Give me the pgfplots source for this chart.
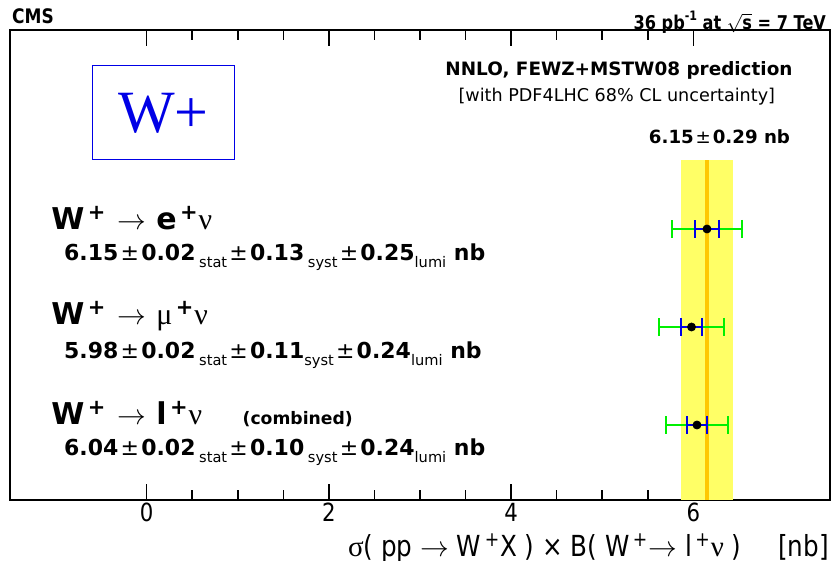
\documentclass[border=0pt]{standalone}
\usepackage{fontspec}
\setmainfont{DejaVu Sans}
\newfontfamily\cond[FakeStretch=0.85]{DejaVu Sans}
\newfontfamily\serif{Liberation Serif}
\usepackage{pgfplots}
\pgfplotsset{compat=1.18}
\definecolor{bandyellow}{RGB}{255,255,102}
\definecolor{cent}{RGB}{255,200,0}
\definecolor{grn}{RGB}{0,240,0}
\definecolor{blu}{RGB}{0,0,230}
\newcommand\sub[1]{\raisebox{-0.6ex}{\fontsize{7.3}{7.3}\selectfont\mdseries #1}}
\newcommand\gr[1]{{\serif\mdseries #1}}
\newcommand\pmm{{\mdseries\kern0.1em±\kern0.1em}}
\newcommand\arr{{\mdseries$\rightarrow$}}
\begin{document}
\begin{tikzpicture}
\path[use as bounding box] (-5pt,-30.5pt) rectangle (411pt,250pt);
\begin{axis}[at={(0,0)}, anchor=south west, width=410pt, height=235pt, scale only axis,
  xmin=-1.5, xmax=7.5, ymin=0, ymax=470, clip=false,
  axis line style={line width=1pt},
  xtick={0,2,4,6}, minor x tick num=3,
  ytick=\empty,
  major tick length=8pt, minor tick length=5pt,
  tick style={black, line width=0.8pt},
  minor tick style={black, line width=0.8pt},
  tick align=inside, xtick pos=both,
  xticklabel style={font=\cond\fontsize{12.5}{12.5}\selectfont, yshift=2pt},
  /pgf/number format/assume math mode=true]
% band
\addplot[fill=bandyellow, draw=none] coordinates {(5.86,0) (6.44,0) (6.44,340) (5.86,340)} -- cycle;
\addplot[cent, line width=2pt] coordinates {(6.15,0) (6.15,340)};
% total errors
\addplot[draw=none, mark=none, error bars/.cd, x dir=both, x explicit,
  error bar style={draw=grn, line width=1pt}, error mark=|,
  error mark options={draw=grn, line width=1pt, mark size=4.5pt}]
  coordinates {(6.15,271) +- (0.38,0) (5.98,173) +- (0.355,0) (6.04,75) +- (0.345,0)};
% stat+syst errors
\addplot[draw=none, mark=none, error bars/.cd, x dir=both, x explicit,
  error bar style={draw=blu, line width=1pt}, error mark=|,
  error mark options={draw=blu, line width=1pt, mark size=4.5pt}]
  coordinates {(6.15,271) +- (0.13,0) (5.98,173) +- (0.113,0) (6.04,75) +- (0.105,0)};
\addplot[only marks, mark=*, mark size=2pt, black] coordinates {(6.15,271) (5.98,173) (6.04,75)};
% texts
\node[anchor=west, inner sep=0pt, font=\cond\bfseries\fontsize{10}{10}\selectfont] at (axis cs:-1.48,484) {CMS};
\node[anchor=east, inner sep=0pt, font=\cond\bfseries\fontsize{9.5}{9.5}\selectfont] at (axis cs:7.46,478) {36 pb\raisebox{0.9ex}{\fontsize{6.5}{6.5}\selectfont -1} at $\sqrt{\mbox{s}}$ = 7 TeV};
\draw[blu, line width=0.5pt] (axis cs:-0.596,340) rectangle (axis cs:0.960,434);
\node[blu, font=\serif\fontsize{30}{30}\selectfont] at (axis cs:0.182,387) {W+};
\node[font=\bfseries\fontsize{9.2}{9.2}\selectfont] at (axis cs:5.184,430) {NNLO, FEWZ+MSTW08 prediction};
\node[font=\fontsize{8.8}{8.8}\selectfont] at (axis cs:5.16,403) {[with PDF4LHC 68\% CL uncertainty]};
\node[font=\bfseries\fontsize{9.1}{9.1}\selectfont] at (axis cs:6.287,363) {6.15\pmm 0.29 nb};
\node[anchor=west, inner sep=0pt, font=\bfseries\fontsize{15}{15}\selectfont] at (axis cs:-1.05,282) {W\textsuperscript{\,+} \arr\ e\textsuperscript{\,+}\gr{ν}};
\node[anchor=west, inner sep=0pt, font=\bfseries\fontsize{11}{11}\selectfont] at (axis cs:-0.91,243) {6.15\pmm 0.02\,\sub{stat}\pmm 0.13\,\sub{syst}\pmm 0.25\sub{lumi} nb};
\node[anchor=west, inner sep=0pt, font=\bfseries\fontsize{15}{15}\selectfont] at (axis cs:-1.05,184) {W\textsuperscript{\,+} \arr\ \gr{μ}\textsuperscript{\,+}\gr{ν}};
\node[anchor=west, inner sep=0pt, font=\bfseries\fontsize{11}{11}\selectfont] at (axis cs:-0.91,145) {5.98\pmm 0.02\,\sub{stat}\pmm 0.11\sub{syst}\pmm 0.24\sub{lumi} nb};
\node[anchor=west, inner sep=0pt, font=\bfseries\fontsize{15}{15}\selectfont] at (axis cs:-1.05,86) {W\textsuperscript{\,+} \arr\ l\textsuperscript{\,+}\gr{ν}\quad\ {\fontsize{8.6}{8.6}\selectfont (combined)}};
\node[anchor=west, inner sep=0pt, font=\bfseries\fontsize{11}{11}\selectfont] at (axis cs:-0.91,48) {6.04\pmm 0.02\,\sub{stat}\pmm 0.10\,\sub{syst}\pmm 0.24\sub{lumi} nb};
\node[anchor=east, inner sep=0pt, font=\cond\fontsize{14.5}{14.5}\selectfont] at (axis cs:7.49,-48) {\gr{σ}( pp \arr\ W\textsuperscript{\,+}X ) × B( W\textsuperscript{\,+}\arr\ l\textsuperscript{\,+}\gr{ν} )\quad\ [nb]};
\end{axis}
\end{tikzpicture}
\end{document}
